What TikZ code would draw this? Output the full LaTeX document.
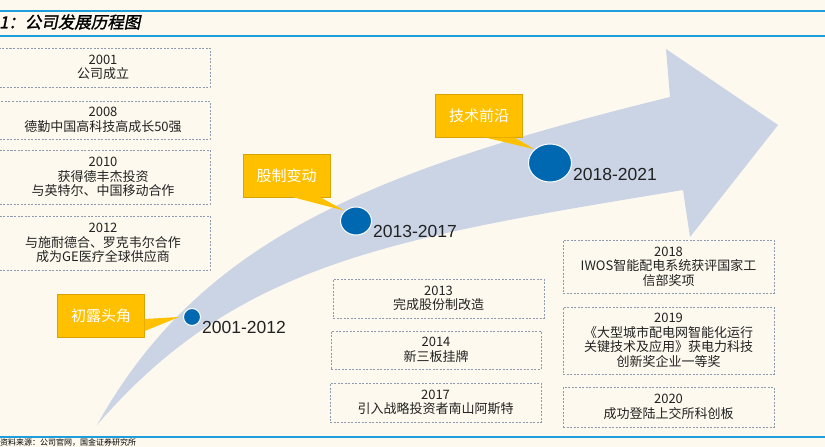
\documentclass[tikz,border=0pt]{standalone}
\usepackage{fontspec}
\setmainfont{Liberation Sans}
\newfontfamily\cjk{Noto Sans CJK SC}
\newfontfamily\titlefont[FakeSlant=0.2,FakeBold=1.4]{Noto Sans CJK SC}
\usetikzlibrary{shapes.geometric}
\definecolor{paper}{HTML}{FDF9EE}
\definecolor{rulecol}{HTML}{1E9FDC}
\definecolor{bandcol}{HTML}{CAD4E5}
\definecolor{dotcol}{HTML}{0068B0}
\definecolor{callcol}{HTML}{FFC000}
\definecolor{boxline}{HTML}{8E9BAE}
\definecolor{textcol}{HTML}{222222}
\tikzset{
  rulebar/.style = {draw = rulecol, line width = 1.4pt},
  eventbox/.style = {draw = boxline, dash pattern = on 2pt off 1.5pt, line width = .7pt,
    inner sep = 0pt, align = center, text = textcol,
    font = \cjk\fontsize{13}{14.5}\selectfont, minimum width = 211pt},
  callout/.style = {fill = callcol, draw = callcol!85!black, line width = .4pt,
    text = white, font = \cjk\fontsize{15}{18}\selectfont,
    minimum width = 87pt, minimum height = 43pt, inner sep = 0pt},
  tail/.style = {fill = callcol},
  stagedot/.style = {ellipse, fill = dotcol, draw = white, line width = 1pt, inner sep = 0pt},
  stagelabel/.style = {anchor = west, text = textcol, inner sep = 0pt,
    font = \fontsize{17.5}{20}\selectfont}
}
\begin{document}
\begin{tikzpicture}[x = 1pt, y = -1pt]
\fill[paper] (0,0) rectangle (825,447);
\useasboundingbox (0,0) rectangle (825,447);

\draw[rulebar] (0,11) -- (825,11);
\draw[rulebar] (0,36) -- (825,36);
\draw[rulebar] (0,437) -- (825,437);
\node[anchor = west, inner sep = 0pt, text = black, font = \titlefont\fontsize{16.5}{18}\selectfont] (title) at (-1,22) {1：公司发展历程图};
\node[anchor = south west, inner sep = 0pt, text = black, font = \cjk\fontsize{8}{9}\selectfont] (source) at (0,446.5) {资料来源：公司官网，国金证券研究所};

\fill[bandcol] (97,425) .. controls (200,240) and (370,171) .. (670,97) -- (666,49) -- (778,125) -- (690,237) -- (683,190) .. controls (391,238) and (237,263) .. (97,425) -- cycle;

\node[eventbox, minimum width = 214pt, minimum height = 39pt] (e2001) at (103,67.5) {2001\\公司成立};
\node[eventbox, minimum width = 214pt, minimum height = 38pt] (e2008) at (103,120) {2008\\德勤中国高科技高成长50强};
\node[eventbox, minimum width = 214pt, minimum height = 54pt] (e2010) at (103,177) {2010\\获得德丰杰投资\\与英特尔、中国移动合作};
\node[eventbox, minimum width = 214pt, minimum height = 54pt] (e2012) at (103,243) {2012\\与施耐德合、罗克韦尔合作\\成为GE医疗全球供应商};

\node[eventbox, minimum height = 39pt] (e2013) at (438.5,298.5) {2013\\完成股份制改造};
\node[eventbox, minimum width = 210pt, minimum height = 38pt] (e2014) at (436,350) {2014\\新三板挂牌};
\node[eventbox, minimum height = 39pt] (e2017) at (435.5,402.5) {2017\\引入战略投资者南山阿斯特};

\node[eventbox, minimum height = 53pt] (e2018) at (668.5,266.5) {2018\\IWOS智能配电系统获评国家工\\信部奖项};
\node[eventbox, minimum height = 67pt] (e2019) at (668.5,340.5) {2019\\《大型城市配电网智能化运行\\关键技术及应用》获电力科技\\创新奖企业一等奖};
\node[eventbox, minimum height = 40pt] (e2020) at (668.5,407) {2020\\成功登陆上交所科创板};

\node[stagedot, minimum width = 17pt, minimum height = 17pt] (d1) at (192,317) {};
\node[stagedot, minimum width = 31pt, minimum height = 28pt] (d2) at (356,221) {};
\node[stagedot, minimum width = 43pt, minimum height = 38pt] (d3) at (550,163) {};

\node[stagelabel] (s1) at (202,327) {2001-2012};
\node[stagelabel] (s2) at (373,231) {2013-2017};
\node[stagelabel] (s3) at (573,174) {2018-2021};

\node[callout] (c1) at (101,315.5) {初露头角};
\node[callout] (c2) at (286.5,175.5) {股制变动};
\node[callout] (c3) at (479,116) {技术前沿};
\fill[tail] ([yshift = -3.5pt]c1.east) -- ([xshift = -4pt]d1.west) -- ([yshift = -15.5pt]c1.east) -- cycle;
\fill[tail] ([xshift = 6.5pt]c2.south) -- (d2.north west) -- ([xshift = -10pt]c2.south east) -- cycle;
\fill[tail] ([xshift = 7pt]c3.south) -- (d3.north west) -- ([xshift = -8pt]c3.south east) -- cycle;
\end{tikzpicture}
\end{document}
